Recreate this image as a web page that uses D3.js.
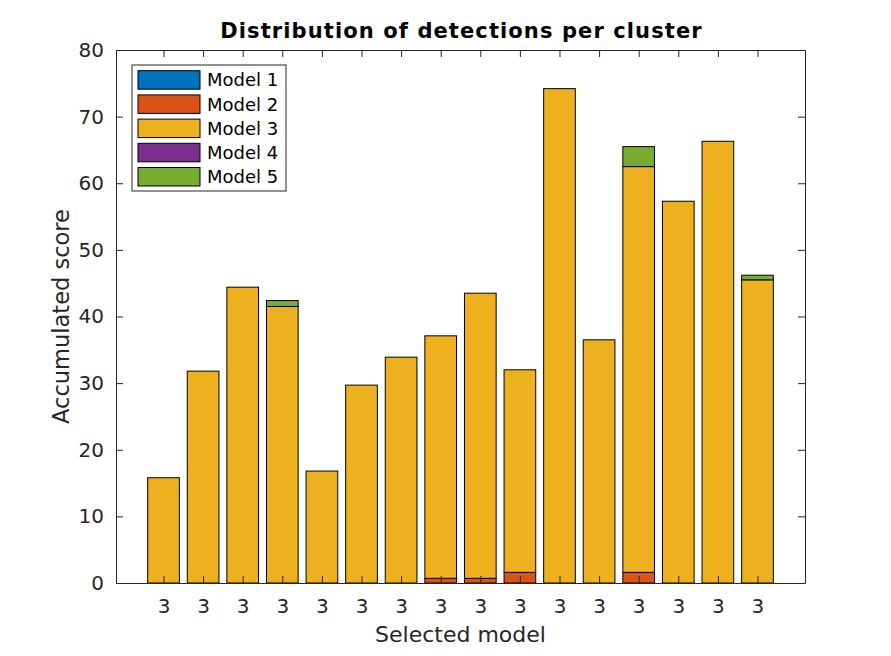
<!DOCTYPE html>
<html>
<head>
<meta charset="utf-8">
<script src="https://cdn.jsdelivr.net/npm/d3@7"></script>
<style>
  body { margin: 0; background: #fff; }
  svg { font-family: "DejaVu Sans", sans-serif; }
</style>
</head>
<body>
<svg id="chart" width="891" height="656"></svg>
<script>
// Data
const clusters = d3.range(1, 17);
const xTickLabels = ["3","3","3","3","3","3","3","3","3","3","3","3","3","3","3","3"];
const seriesNames = ["Model 1", "Model 2", "Model 3", "Model 4", "Model 5"];
const model1 = [0,0,0,0,0,0,0,0,0,0,0,0,0,0,0,0];
const model2 = [0,0,0,0,0,0,0,0.7,0.7,1.6,0,0,1.6,0,0,0];
const model3 = [15.8,31.8,44.4,41.5,16.8,29.7,33.9,36.4,42.8,30.4,74.2,36.5,60.9,57.3,66.3,45.5];
const model4 = [0,0,0,0,0,0,0,0,0,0,0,0,0,0,0,0];
const model5 = [0,0,0,0.9,0,0,0,0,0,0,0,0,3.0,0,0,0.7];
const yTicks = [0,10,20,30,40,50,60,70,80];
const colors = ["#0072BD", "#D95319", "#EDB120", "#7E2F8E", "#77AC30"];

const margin = { top: 50, right: 86, bottom: 73, left: 116 };
const width = 891 - margin.left - margin.right;
const height = 656 - margin.top - margin.bottom;
const axisColor = "#262626";

const table = clusters.map(function(c, i) {
  return { cluster: c, "Model 1": model1[i], "Model 2": model2[i], "Model 3": model3[i], "Model 4": model4[i], "Model 5": model5[i] };
});
const stacked = d3.stack().keys(seriesNames)(table);

const xScale = d3.scaleLinear().domain([-0.2, 17.2]).range([0, width]);
const yScale = d3.scaleLinear().domain([0, 80]).range([height, 0]);
const barW = xScale(0.8) - xScale(0);

const svg = d3.select("#chart")
  .append("g")
  .attr("transform", "translate(" + margin.left + "," + margin.top + ")");

// Bars
svg.selectAll("g.series")
  .data(stacked)
  .enter()
  .append("g")
  .attr("class", "series")
  .attr("fill", function(d, i) { return colors[i]; })
  .selectAll("rect")
  .data(function(d) { return d.filter(function(p) { return p[1] - p[0] > 0; }); })
  .enter()
  .append("rect")
  .attr("x", function(d) { return xScale(d.data.cluster) - barW / 2; })
  .attr("y", function(d) { return yScale(d[1]); })
  .attr("width", barW)
  .attr("height", function(d) { return yScale(d[0]) - yScale(d[1]); })
  .attr("stroke", "#000")
  .attr("stroke-width", 1);

// Axes (ticks inward, box)
const tickLen = 7;
const xAxis = d3.axisBottom(xScale).tickValues(clusters)
  .tickFormat(function(d, i) { return xTickLabels[i]; })
  .tickSizeInner(-tickLen).tickSizeOuter(0).tickPadding(15.5);
const yAxis = d3.axisLeft(yScale).tickValues(yTicks)
  .tickSizeInner(-tickLen).tickSizeOuter(0).tickPadding(12);

const gx = svg.append("g").attr("transform", "translate(0," + height + ")").call(xAxis);
const gy = svg.append("g").call(yAxis);
const gxTop = svg.append("g").call(d3.axisTop(xScale).tickValues(clusters).tickFormat("").tickSizeInner(-tickLen).tickSizeOuter(0));
const gyRight = svg.append("g").attr("transform", "translate(" + width + ",0)")
  .call(d3.axisRight(yScale).tickValues(yTicks).tickFormat("").tickSizeInner(-tickLen).tickSizeOuter(0));

[gx, gy, gxTop, gyRight].forEach(function(g) {
  g.select(".domain").attr("stroke", axisColor);
  g.selectAll(".tick line").attr("stroke", axisColor);
  g.selectAll(".tick text").attr("fill", axisColor).style("font-size", "20px").style("font-family", "DejaVu Sans");
});

// Title and labels
svg.append("text")
  .attr("x", width / 2 + 1)
  .attr("y", -12)
  .attr("text-anchor", "middle")
  .style("font-size", "21px")
  .style("font-weight", "bold")
  .style("letter-spacing", "1.1px")
  .attr("fill", "#000")
  .text("Distribution of detections per cluster");

svg.append("text")
  .attr("x", width / 2)
  .attr("y", height + 58.5)
  .attr("text-anchor", "middle")
  .style("font-size", "22px")
  .attr("fill", axisColor)
  .text("Selected model");

svg.append("text")
  .attr("transform", "translate(-47," + (height / 2) + ") rotate(-90)")
  .attr("text-anchor", "middle")
  .style("font-size", "22.5px")
  .attr("fill", axisColor)
  .text("Accumulated score");

// Legend
const legend = svg.append("g")
  .attr("transform", "translate(16,15)");

legend.append("rect")
  .attr("width", 154)
  .attr("height", 126)
  .attr("fill", "#fff")
  .attr("stroke", axisColor)
  .attr("stroke-width", 1);

seriesNames.forEach(function(name, i) {
  legend.append("rect")
    .attr("x", 6)
    .attr("y", 5.7 + i * 24.2)
    .attr("width", 62)
    .attr("height", 18.5)
    .attr("fill", colors[i])
    .attr("stroke", "#000");
  legend.append("text")
    .attr("x", 75)
    .attr("y", 15 + i * 24.2)
    .attr("dy", "0.35em")
    .style("font-size", "18px")
    .attr("fill", "#000")
    .text(name);
});
</script>
</body>
</html>
